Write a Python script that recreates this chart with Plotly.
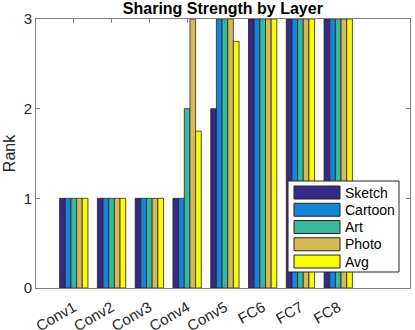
import plotly.graph_objects as go

layers = ["Conv1", "Conv2", "Conv3", "Conv4", "Conv5", "FC6", "FC7", "FC8"]
positions = [1, 2, 3, 4, 5, 6, 7, 8]

sketch = [1, 1, 1, 1, 2, 3, 3, 3]
cartoon = [1, 1, 1, 1, 3, 3, 3, 3]
art = [1, 1, 1, 2, 3, 3, 3, 3]
photo = [1, 1, 1, 3, 3, 3, 3, 3]
avg = [1, 1, 1, 1.75, 2.75, 3, 3, 3]

names = ["Sketch", "Cartoon", "Art", "Photo", "Avg"]
colors = ["#352a87", "#1485d6", "#38b99e", "#d6b955", "#f9fb0e"]
values = [sketch, cartoon, art, photo, avg]

FONT = "Liberation Sans, Arial, sans-serif"
EDGE = "#262626"
AXIS = "#808080"

# plot area in pixels (left, right, top, bottom)
L, R, T, B = 36, 410, 19, 288


def px(x):
    return (x - L) / (R - L)


def py(y):
    return (B - y) / (B - T)


fig = go.Figure()
for name, vals, color in zip(names, values, colors):
    fig.add_trace(go.Bar(x=positions, y=vals, name=name, showlegend=False,
                         marker=dict(color=color, line=dict(color=EDGE, width=0.8))))

# legend drawn by hand so the swatches are wide like the original
shapes = [dict(type="rect", xref="paper", yref="paper",
               x0=px(288), x1=px(399), y0=py(272), y1=py(181),
               fillcolor="white", line=dict(color=EDGE, width=1), layer="above")]
annotations = []
for i, (name, color) in enumerate(zip(names, colors)):
    top = 186 + i * 17.25
    shapes.append(dict(type="rect", xref="paper", yref="paper",
                       x0=px(294), x1=px(340), y0=py(top + 13), y1=py(top),
                       fillcolor=color, line=dict(color=EDGE, width=1), layer="above"))
    annotations.append(dict(text=name, xref="paper", yref="paper",
                            x=px(343), y=py(top + 6.5), xanchor="left", yanchor="middle",
                            showarrow=False, font=dict(family=FONT, size=14, color="black")))

fig.update_layout(
    width=415, height=330,
    margin=dict(l=L, r=415 - R, t=T, b=330 - B),
    paper_bgcolor="white", plot_bgcolor="white",
    barmode="group", bargap=0.25, bargroupgap=0,
    font=dict(family=FONT, size=14, color=EDGE),
    title=dict(text="<b>Sharing Strength by Layer</b>", x=0.537, xanchor="center",
               y=1 - 8.5 / 330, yanchor="middle",
               font=dict(family=FONT, size=16, color="black")),
    shapes=shapes, annotations=annotations,
)
fig.update_xaxes(range=[0, 9.9], tickvals=positions, ticktext=layers, tickangle=-30,
                 ticks="inside", ticklen=4, tickcolor=AXIS, mirror="ticks",
                 showline=True, linecolor=AXIS, linewidth=1, showgrid=False,
                 zeroline=False, automargin=False, ticklabelstandoff=4,
                 tickfont=dict(family=FONT, size=15, color=EDGE))
fig.update_yaxes(range=[0, 3], tickvals=[0, 1, 2, 3], ticks="inside", ticklen=4,
                 tickcolor=AXIS, mirror="ticks", showline=True, linecolor=AXIS,
                 linewidth=1, showgrid=False, zeroline=False, automargin=False,
                 tickfont=dict(family=FONT, size=15, color=EDGE),
                 title=dict(text="Rank", standoff=4, font=dict(family=FONT, size=16, color=EDGE)))

# drop the page's default body margin so the figure sits at the window corner
fig.write_html("out.html", config={"displayModeBar": False},
               post_script="document.body.style.margin = '0';")
